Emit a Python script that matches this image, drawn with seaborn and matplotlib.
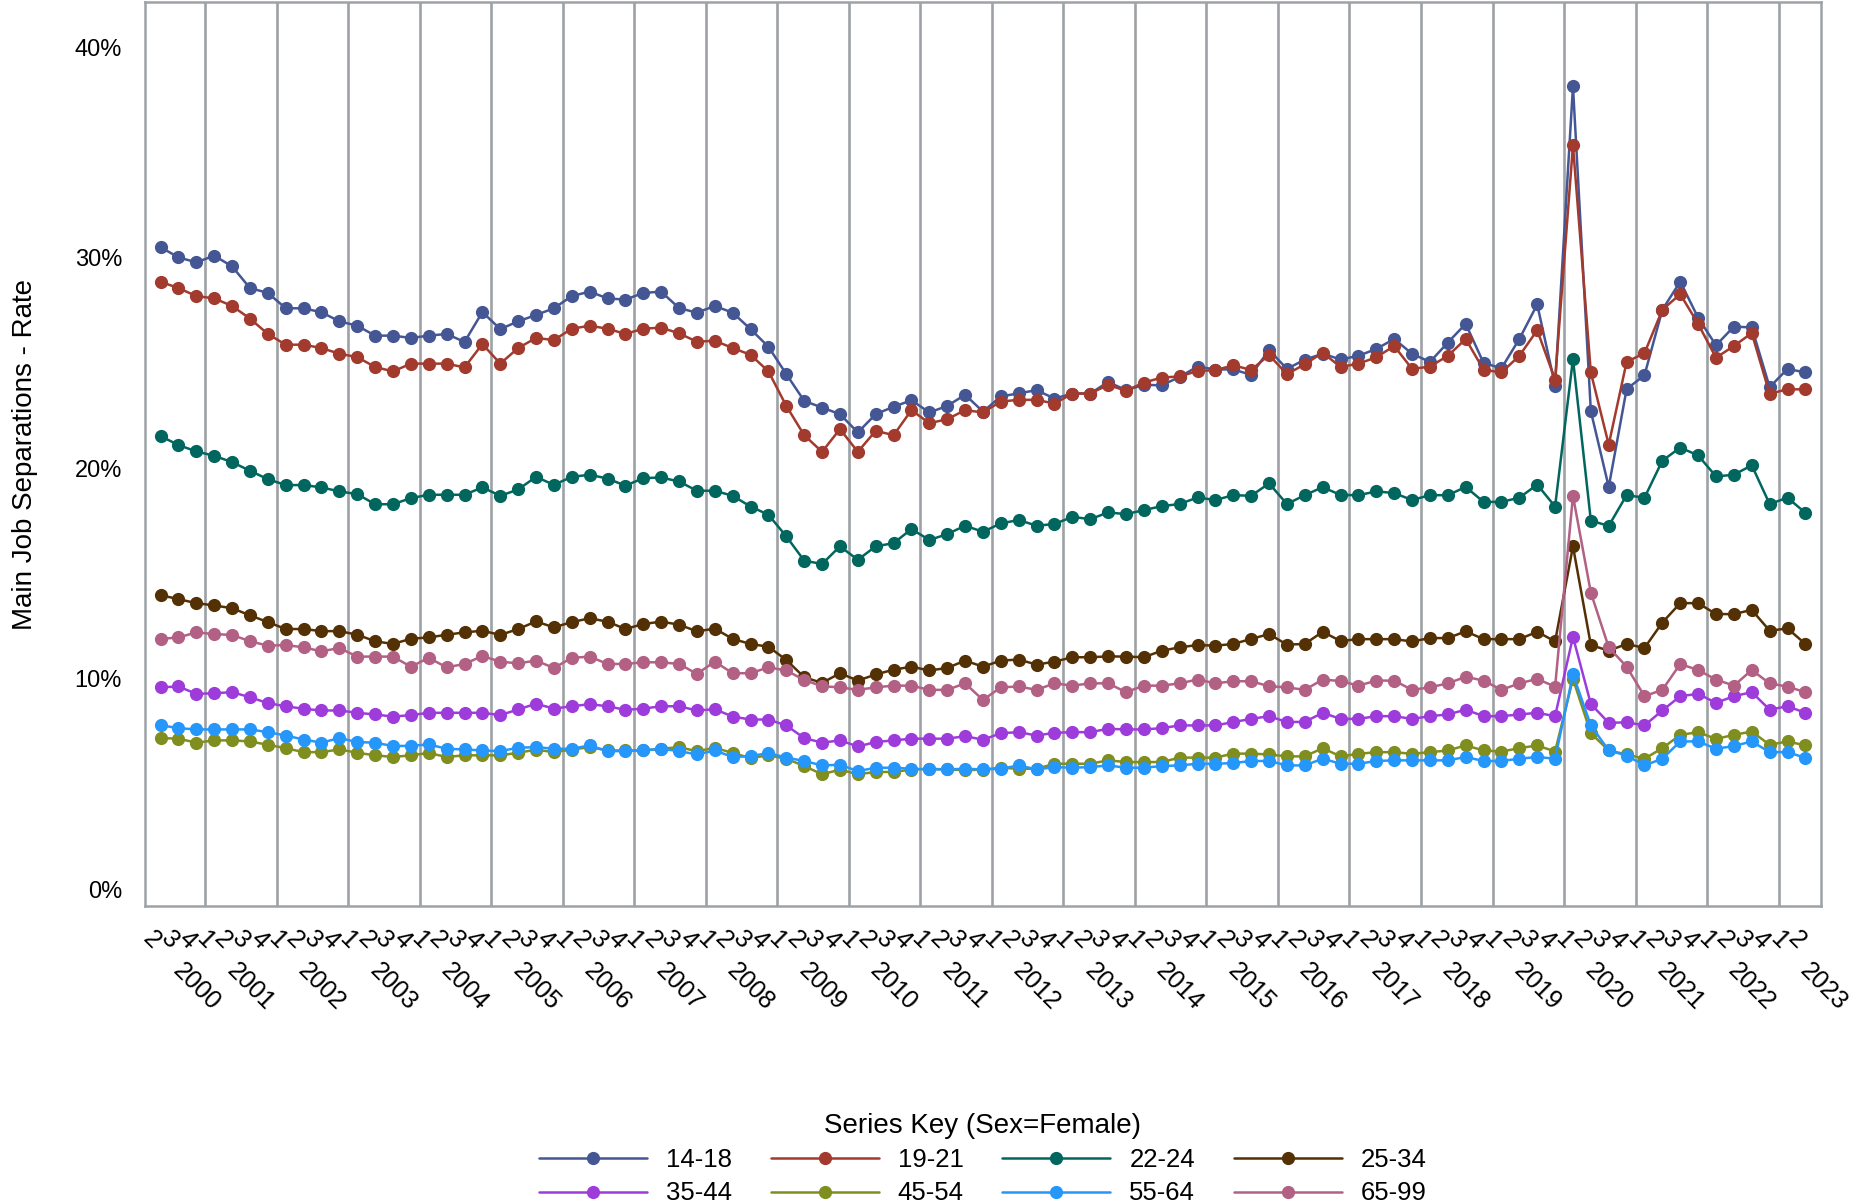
import numpy as np
import pandas as pd
import seaborn as sns
import matplotlib.pyplot as plt
import matplotlib.transforms as mtransforms
from matplotlib.lines import Line2D
from matplotlib.ticker import FuncFormatter

sns.set_theme(style="white")
plt.rcParams['font.family'] = ['Liberation Sans', 'DejaVu Sans']
plt.rcParams['text.color'] = 'black'
plt.rcParams['axes.labelcolor'] = 'black'

# quarters 2000Q2 .. 2023Q2
years = [2000] * 3 + [y for y in range(2001, 2023) for _ in range(4)] + [2023] * 2
quarters = [2, 3, 4] + [1, 2, 3, 4] * 22 + [1, 2]

groups = ["14-18", "19-21", "22-24", "25-34", "35-44", "45-54", "55-64", "65-99"]
colors = ["#445694", "#A23A2E", "#01665E", "#543005", "#9D3CDB", "#7F8E1F", "#2597FA", "#B26084"]

r_14_18 = [30.51, 30.03, 29.79, 30.11, 29.6, 28.57, 28.34, 27.61, 27.61, 27.42, 26.99, 26.78, 26.31, 26.31, 26.2,
           26.31, 26.39, 26.01, 27.43, 26.62, 26.99, 27.29, 27.61, 28.19, 28.4, 28.08, 28.02, 28.34, 28.4, 27.62,
           27.4, 27.72, 27.4, 26.62, 25.78,
           24.48, 23.21, 22.89, 22.58, 21.71, 22.58, 22.93, 23.24, 22.66, 22.97, 23.5, 22.7, 23.42, 23.57, 23.72,
           23.32, 23.56, 23.56, 24.11, 23.72, 23.97, 23.95, 24.35, 24.84, 24.7, 24.71, 24.44, 25.63, 24.73,
           25.17, 25.45, 25.18, 25.35, 25.68, 26.15, 25.45, 25.06, 25.98, 26.87, 25.01, 24.76, 26.15, 27.79, 23.94,
           38.15, 22.72, 19.12, 23.77, 24.43, 27.54, 28.88, 27.16, 25.85, 26.74, 26.7, 23.86, 24.73, 24.56]
r_19_21 = [28.87, 28.57, 28.19, 28.08, 27.72, 27.12, 26.39, 25.88, 25.88, 25.72, 25.45, 25.29, 24.82, 24.61, 24.98,
           24.98, 24.98, 24.8, 25.91, 24.98, 25.72, 26.2, 26.1, 26.64, 26.78, 26.64, 26.39, 26.64, 26.69, 26.42,
           26.02, 26.07, 25.72, 25.4, 24.61,
           22.97, 21.58, 20.79, 21.87, 20.79, 21.79, 21.58, 22.77, 22.15, 22.34, 22.77, 22.66, 23.18, 23.26, 23.26,
           23.08, 23.56, 23.56, 23.97, 23.69, 24.08, 24.32, 24.37, 24.63, 24.67, 24.9, 24.68, 25.39, 24.48,
           24.95, 25.5, 24.82, 24.98, 25.28, 25.82, 24.73, 24.84, 25.35, 26.15, 24.69, 24.56, 25.35, 26.57, 24.22,
           35.35, 24.56, 21.13, 25.06, 25.48, 27.54, 28.28, 26.87, 25.26, 25.82, 26.43, 23.55, 23.76, 23.76]
r_22_24 = [21.54, 21.11, 20.81, 20.6, 20.3, 19.89, 19.49, 19.21, 19.21, 19.1, 18.91, 18.78, 18.3, 18.3, 18.59,
           18.75, 18.75, 18.75, 19.1, 18.7, 19.0, 19.6, 19.22, 19.6, 19.7, 19.52, 19.18, 19.54, 19.57, 19.38,
           18.94, 18.94, 18.7, 18.19, 17.8,
           16.77, 15.62, 15.46, 16.3, 15.66, 16.3, 16.45, 17.12, 16.6, 16.88, 17.28, 16.99, 17.39, 17.55, 17.28,
           17.36, 17.7, 17.59, 17.91, 17.83, 18.02, 18.21, 18.31, 18.62, 18.5, 18.73, 18.7, 19.29, 18.31,
           18.73, 19.11, 18.74, 18.73, 18.91, 18.83, 18.5, 18.73, 18.73, 19.12, 18.41, 18.41, 18.61, 19.23, 18.19,
           25.2, 17.52, 17.27, 18.73, 18.61, 20.37, 20.99, 20.62, 19.62, 19.7, 20.15, 18.31, 18.61, 17.89]
r_25_34 = [13.98, 13.79, 13.6, 13.49, 13.36, 13.02, 12.7, 12.37, 12.37, 12.27, 12.27, 12.1, 11.79, 11.66, 11.91,
           11.97, 12.1, 12.21, 12.29, 12.09, 12.37, 12.73, 12.45, 12.7, 12.88, 12.72, 12.37, 12.61, 12.72, 12.58,
           12.26, 12.39, 11.9, 11.66, 11.53,
           10.9, 10.08, 9.81, 10.27, 9.92, 10.21, 10.44, 10.58, 10.4, 10.52, 10.87, 10.58, 10.87, 10.92, 10.68,
           10.82, 11.03, 11.03, 11.07, 11.06, 11.03, 11.34, 11.5, 11.61, 11.58, 11.66, 11.9, 12.13, 11.63,
           11.66, 12.24, 11.8, 11.89, 11.89, 11.89, 11.78, 11.94, 11.94, 12.26, 11.89, 11.89, 11.89, 12.24, 11.78,
           16.3, 11.61, 11.34, 11.66, 11.47, 12.68, 13.6, 13.6, 13.08, 13.08, 13.28, 12.29, 12.4, 11.66]
r_35_44 = [9.6, 9.64, 9.29, 9.32, 9.37, 9.13, 8.85, 8.7, 8.58, 8.5, 8.5, 8.39, 8.31, 8.21, 8.28,
           8.39, 8.39, 8.39, 8.39, 8.28, 8.55, 8.82, 8.59, 8.7, 8.8, 8.7, 8.53, 8.59, 8.7, 8.7,
           8.5, 8.56, 8.21, 8.07, 8.07,
           7.79, 7.19, 6.97, 7.08, 6.79, 7.0, 7.08, 7.16, 7.16, 7.16, 7.28, 7.11, 7.42, 7.47, 7.31,
           7.44, 7.47, 7.47, 7.63, 7.6, 7.6, 7.66, 7.79, 7.79, 7.79, 7.95, 8.1, 8.23, 7.95,
           7.96, 8.39, 8.1, 8.1, 8.23, 8.23, 8.1, 8.23, 8.31, 8.54, 8.23, 8.23, 8.31, 8.39, 8.23,
           12.0, 8.81, 7.91, 7.94, 7.79, 8.5, 9.18, 9.29, 8.86, 9.18, 9.37, 8.54, 8.7, 8.39]
r_45_54 = [7.19, 7.16, 6.97, 7.08, 7.08, 7.03, 6.87, 6.71, 6.52, 6.52, 6.65, 6.49, 6.37, 6.29, 6.37,
           6.48, 6.29, 6.37, 6.37, 6.37, 6.49, 6.64, 6.52, 6.64, 6.76, 6.6, 6.6, 6.6, 6.68, 6.76,
           6.56, 6.73, 6.48, 6.24, 6.37,
           6.21, 5.86, 5.47, 5.69, 5.47, 5.58, 5.58, 5.69, 5.73, 5.7, 5.66, 5.69, 5.78, 5.73, 5.73,
           5.97, 5.97, 5.97, 6.13, 6.05, 6.05, 6.05, 6.26, 6.26, 6.26, 6.45, 6.45, 6.41, 6.32,
           6.32, 6.71, 6.32, 6.44, 6.52, 6.52, 6.44, 6.52, 6.6, 6.84, 6.6, 6.55, 6.71, 6.84, 6.55,
           10.0, 7.42, 6.6, 6.41, 6.21, 6.71, 7.34, 7.47, 7.15, 7.34, 7.5, 6.87, 7.03, 6.84]
r_55_64 = [7.8, 7.66, 7.6, 7.6, 7.6, 7.6, 7.47, 7.31, 7.12, 6.97, 7.19, 7.0, 6.97, 6.81, 6.82,
           6.89, 6.68, 6.65, 6.6, 6.57, 6.73, 6.76, 6.68, 6.68, 6.84, 6.57, 6.57, 6.6, 6.68, 6.57,
           6.41, 6.6, 6.29, 6.33, 6.48,
           6.26, 6.1, 5.89, 5.92, 5.62, 5.78, 5.78, 5.73, 5.7, 5.7, 5.73, 5.7, 5.73, 5.89, 5.7,
           5.81, 5.78, 5.81, 5.89, 5.78, 5.78, 5.86, 5.89, 5.97, 5.97, 6.0, 6.1, 6.1, 5.89,
           5.89, 6.21, 5.97, 5.97, 6.1, 6.13, 6.13, 6.13, 6.13, 6.29, 6.1, 6.1, 6.21, 6.29, 6.21,
           10.21, 7.79, 6.6, 6.36, 5.89, 6.21, 7.03, 7.03, 6.68, 6.81, 7.03, 6.52, 6.52, 6.25]
r_65_99 = [11.9, 11.97, 12.21, 12.13, 12.09, 11.79, 11.58, 11.61, 11.5, 11.31, 11.47, 11.06, 11.06, 11.06, 10.58,
           11.0, 10.55, 10.71, 11.09, 10.82, 10.74, 10.87, 10.52, 11.0, 11.06, 10.71, 10.71, 10.79, 10.79, 10.71,
           10.24, 10.82, 10.27, 10.27, 10.55,
           10.4, 9.95, 9.65, 9.6, 9.48, 9.6, 9.68, 9.68, 9.48, 9.48, 9.79, 9.0, 9.6, 9.64, 9.48,
           9.79, 9.68, 9.79, 9.79, 9.37, 9.68, 9.68, 9.79, 9.97, 9.79, 9.89, 9.89, 9.65, 9.6,
           9.48, 9.97, 9.9, 9.68, 9.92, 9.92, 9.48, 9.6, 9.79, 10.1, 9.92, 9.48, 9.79, 10.0, 9.63,
           18.7, 14.1, 11.5, 10.58, 9.18, 9.48, 10.71, 10.42, 9.97, 9.68, 10.42, 9.79, 9.63, 9.37]

series = [r_14_18, r_19_21, r_22_24, r_25_34, r_35_44, r_45_54, r_55_64, r_65_99]

rows = []
for g, vals in zip(groups, series):
    for i, v in enumerate(vals):
        rows.append({"t": i, "year": years[i], "qtr": quarters[i], "age": g, "rate": v})
df = pd.DataFrame(rows)

gray = "#9EA2A6"
fig = plt.figure(figsize=(18.64, 12.04), dpi=100)
ax = fig.add_axes([0.0778, 0.2475, 0.8991, 0.7508])

# year separators
n = len(years)
for i in range(1, n):
    if quarters[i] == 1:
        ax.axvline(i - 0.5, color=gray, lw=1.9, zorder=0)

sns.lineplot(data=df, x="t", y="rate", hue="age", hue_order=groups, palette=colors,
             marker="o", markersize=9.5, markeredgewidth=0, linewidth=1.8,
             legend=False, ax=ax, zorder=3)

ax.set_xlim(-0.87, n - 1 + 0.87)
ax.set_ylim(-0.79, 42.16)
ax.set_yticks([0, 10, 20, 30, 40])
ax.yaxis.set_major_formatter(FuncFormatter(lambda v, p: f"{v:.0f}%"))
ax.set_ylabel("Main Job Separations - Rate", fontsize=20)
ax.yaxis.set_label_coords(-0.064, 0.5)
ax.set_xlabel("")

for s in ax.spines.values():
    s.set_color(gray)
    s.set_linewidth(1.8)

ax.tick_params(axis="both", direction="out", color=gray, width=1.8, length=9.5, labelcolor="black")
ax.tick_params(axis="y", labelsize=17, pad=7)
ax.tick_params(axis="x", labelsize=18, pad=5)

ax.set_xticks(range(n))
ax.set_xticklabels([str(q) for q in quarters], rotation=-45, ha="center", va="top")
shift = mtransforms.ScaledTranslation(-9 / 100, 0, fig.dpi_scale_trans)
for lab in ax.get_xticklabels():
    lab.set_transform(lab.get_transform() + shift)

# year labels under the quarter numbers
trans = mtransforms.blended_transform_factory(ax.transData, fig.transFigure)
for yr in sorted(set(years)):
    first = years.index(yr)
    ax.text(first + 2, 0.2035, str(yr), transform=trans, rotation=-45,
            ha="center", va="top", fontsize=18)

handles = [Line2D([0], [0], color=c, lw=1.8, marker="o", markersize=9.5, markeredgewidth=0)
           for c in colors]
order = [0, 4, 1, 5, 2, 6, 3, 7]
leg = fig.legend([handles[k] for k in order], [groups[k] for k in order],
                 ncol=4, loc="upper center", bbox_to_anchor=(983 / 1864, 1 - 1113 / 1204),
                 frameon=False, fontsize=18.5, title="Series Key (Sex=Female)", title_fontsize=20,
                 handlelength=4.2, handletextpad=0.74, columnspacing=1.5, labelspacing=0.36,
                 borderpad=0, borderaxespad=0)

fig.savefig("out.png", dpi=100)
